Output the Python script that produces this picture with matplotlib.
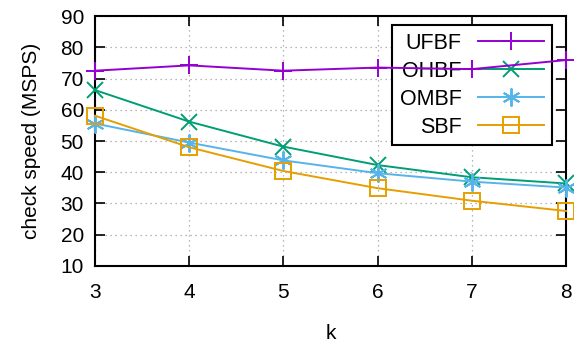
import matplotlib.pyplot as plt

plt.rcParams['font.family'] = ['Liberation Sans', 'DejaVu Sans']
plt.rcParams['font.size'] = 15

k = [3, 4, 5, 6, 7, 8]
ufbf = [72.5, 74.2, 72.5, 73.5, 73.0, 75.9]
ohbf = [66.3, 56.2, 48.2, 42.3, 38.4, 36.4]
ombf = [55.6, 49.5, 43.8, 39.7, 37.0, 35.1]
sbf = [58.1, 48.0, 40.4, 34.9, 30.9, 27.6]

fig = plt.figure(figsize=(5.74, 3.45), dpi=100)
ax = fig.add_axes([0.1655, 0.229, 0.8205, 0.7246])

ax.plot(k, ufbf, color='#9400d3', marker='+', ms=13, mew=1.4, lw=1.4, label='UFBF', clip_on=False, zorder=4)
ax.plot(k, ohbf, color='#009e73', marker='x', ms=12, mew=1.4, lw=1.4, label='OHBF', clip_on=False, zorder=3)
ax.plot(k, ombf, color='#56b4e9', marker=(6, 2, 0), ms=13, mew=1.4, lw=1.4, label='OMBF', clip_on=False, zorder=3)
ax.plot(k, sbf, color='#e69f00', marker='s', ms=11, mew=1.4, mfc='none', lw=1.4, label='SBF', clip_on=False, zorder=3)

ax.set_xlim(3, 8)
ax.set_ylim(10, 90)
ax.set_xticks(k)
ax.set_yticks(range(10, 91, 10))
ax.grid(True, color='#a0a0a0', linestyle=(0, (1, 3)), lw=0.9)
ax.tick_params(direction='in', length=7, width=1.2, top=True, right=True)
ax.tick_params(axis='x', pad=12)
ax.tick_params(axis='y', pad=8)
for s in ax.spines.values():
    s.set_linewidth(1.5)

ax.set_xlabel('k', labelpad=16)
ax.set_ylabel('check speed (MSPS)', labelpad=14)

leg = ax.legend(loc='upper right', bbox_to_anchor=(0.970, 0.964), borderaxespad=0,
                markerfirst=False, fancybox=False, framealpha=1, edgecolor='black',
                fontsize=15.5, handlelength=3.1, labelspacing=0.33, borderpad=0.35,
                handletextpad=0.75)
leg.get_frame().set_linewidth(1.5)
leg.set_zorder(2.5)

fig.savefig('out.png', dpi=100)
